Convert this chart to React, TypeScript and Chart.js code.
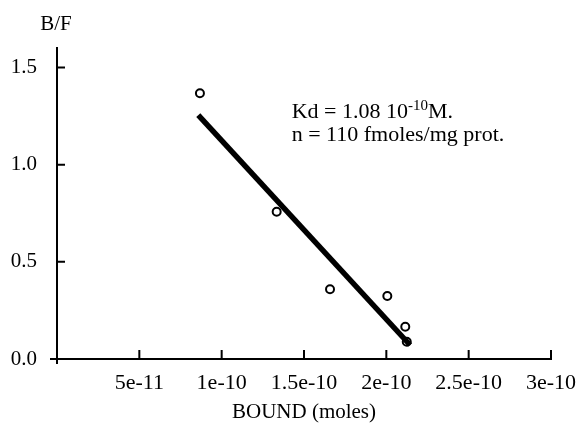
import React, { useEffect, useRef } from 'react';
import { Chart, registerables } from 'chart.js';

Chart.register(...registerables);

// Measured points (BOUND in moles, B/F)
const boundValues = [8.68e-11, 1.334e-10, 1.658e-10, 2.006e-10, 2.115e-10, 2.124e-10];
const bfValues = [1.367, 0.758, 0.359, 0.324, 0.166, 0.089];

// Fitted regression line end points
const fitBound = [8.58e-11, 2.144e-10];
const fitBF = [1.255, 0.072];

// Axis ticks
const xTickValues = [5e-11, 1e-10, 1.5e-10, 2e-10, 2.5e-10, 3e-10];
const xTickLabels = ['5e-11', '1e-10', '1.5e-10', '2e-10', '2.5e-10', '3e-10'];
const yTickValues = [0, 0.5, 1.0, 1.5];
const yTickLabels = ['0.0', '0.5', '1.0', '1.5'];

// Texts
const xTitle = 'BOUND (moles)';
const yTitle = 'B/F';
const kdPrefix = 'Kd = 1.08 10';
const kdExponent = '-10';
const kdSuffix = 'M.';
const nLine = 'n = 110 fmoles/mg prot.';
const annotationAnchor = [1.425e-10, 1.238];

const FAMILY = '"Liberation Serif", "Times New Roman", serif';

const decorations = {
  id: 'decorations',
  afterDraw(chart: any) {
    const { ctx, chartArea } = chart;
    const x = chart.scales.x;
    const y = chart.scales.y;
    ctx.save();
    ctx.strokeStyle = '#000';
    ctx.lineWidth = 2;
    ctx.beginPath();
    x.ticks.forEach((t: any) => {
      if (t.value === 0) return;
      const px = x.getPixelForValue(t.value);
      ctx.moveTo(px, chartArea.bottom);
      ctx.lineTo(px, chartArea.bottom - 9);
    });
    y.ticks.forEach((t: any) => {
      if (t.value === 0) return;
      const py = y.getPixelForValue(t.value);
      ctx.moveTo(chartArea.left, py);
      ctx.lineTo(chartArea.left + 8, py);
    });
    // small axis overhangs at the origin
    ctx.moveTo(chartArea.left - 7, chartArea.bottom);
    ctx.lineTo(chartArea.left, chartArea.bottom);
    ctx.moveTo(chartArea.left, chartArea.bottom);
    ctx.lineTo(chartArea.left, chartArea.bottom + 5);
    ctx.stroke();

    ctx.fillStyle = '#000';
    ctx.font = `21px ${FAMILY}`;
    ctx.textAlign = 'center';
    ctx.textBaseline = 'middle';
    ctx.fillText(yTitle, chartArea.left - 1, chartArea.top - 24);

    const ax = x.getPixelForValue(annotationAnchor[0]);
    const ay = y.getPixelForValue(annotationAnchor[1]);
    ctx.textAlign = 'left';
    ctx.textBaseline = 'alphabetic';
    ctx.font = `22px ${FAMILY}`;
    ctx.fillText(kdPrefix, ax, ay);
    let w = ctx.measureText(kdPrefix).width;
    ctx.font = `15px ${FAMILY}`;
    ctx.fillText(kdExponent, ax + w, ay - 8);
    w += ctx.measureText(kdExponent).width;
    ctx.font = `22px ${FAMILY}`;
    ctx.fillText(kdSuffix, ax + w, ay);
    ctx.fillText(nLine, ax, ay + 22.5);
    ctx.restore();
  },
};

export default function App() {
  const ref = useRef<HTMLCanvasElement | null>(null);

  useEffect(() => {
    document.body.style.margin = '0';
    if (!ref.current) return;
    const font = { family: FAMILY, size: 21 };
    const xFont = { family: FAMILY, size: 22 };
    const chart = new Chart(ref.current, {
      type: 'scatter',
      data: {
        datasets: [
          {
            label: 'fit',
            data: fitBound.map((b, i) => ({ x: b, y: fitBF[i] })),
            showLine: true,
            borderColor: '#000',
            borderWidth: 5.5,
            pointRadius: 0,
            order: 0,
          },
          {
            label: 'points',
            data: boundValues.map((b, i) => ({ x: b, y: bfValues[i] })),
            showLine: false,
            pointRadius: 4,
            pointBorderWidth: 2,
            pointBorderColor: '#000',
            pointBackgroundColor: 'rgba(255,255,255,0)',
            order: 1,
          },
        ],
      },
      options: {
        animation: false,
        responsive: false,
        layout: { padding: { top: 48, right: 26, left: 0, bottom: 0 } },
        plugins: { legend: { display: false }, tooltip: { enabled: false } },
        scales: {
          x: {
            type: 'linear',
            min: 0,
            max: 3e-10,
            afterBuildTicks: (s: any) => {
              s.ticks = xTickValues.map((v) => ({ value: v }));
            },
            afterFit: (s: any) => {
              s.height = 76;
              s.paddingLeft = 0;
              s.paddingRight = 0;
            },
            ticks: {
              callback: (v: any) => xTickLabels[xTickValues.indexOf(v)] ?? '',
              font: xFont,
              color: '#000',
              padding: 11,
              maxRotation: 0,
              autoSkip: false,
            },
            grid: { display: false, drawTicks: false },
            border: { display: true, color: '#000', width: 2 },
            title: {
              display: true,
              text: xTitle,
              font,
              color: '#000',
              padding: { top: 0, bottom: 10 },
            },
          },
          y: {
            type: 'linear',
            min: 0,
            max: 1.6,
            afterBuildTicks: (s: any) => {
              s.ticks = yTickValues.map((v) => ({ value: v }));
            },
            afterFit: (s: any) => {
              s.width = 57;
              s.paddingTop = 0;
              s.paddingBottom = 0;
            },
            ticks: {
              callback: (v: any) => yTickLabels[yTickValues.indexOf(v)] ?? '',
              font,
              color: '#000',
              padding: 20,
            },
            grid: { display: false, drawTicks: false },
            border: { display: true, color: '#000', width: 2 },
          },
        },
      } as any,
      plugins: [decorations],
    });
    return () => chart.destroy();
  }, []);

  return (
    <div style={{ width: 577, height: 435 }}>
      <canvas ref={ref} width={577} height={435} style={{ display: 'block' }} />
    </div>
  );
}
